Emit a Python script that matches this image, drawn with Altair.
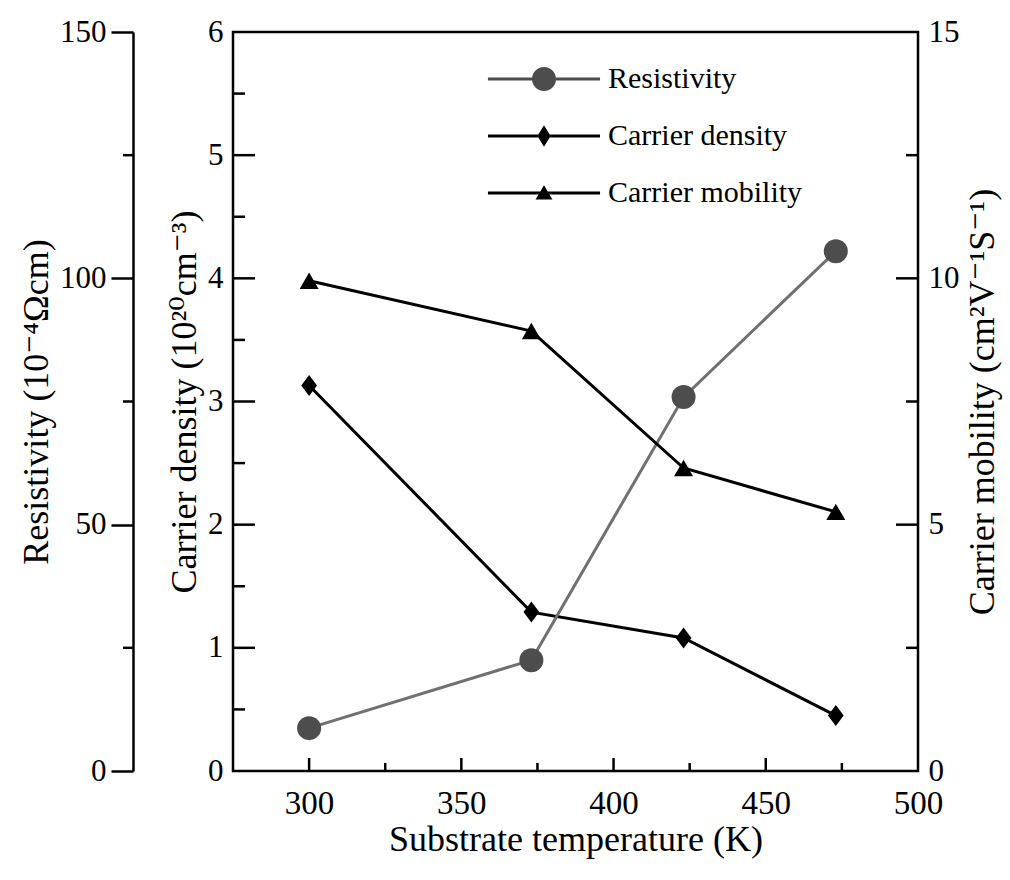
import altair as alt
import pandas as pd

# ---------------- data ----------------
temps = [300, 373, 423, 473]
resistivity = [8.7, 22.5, 75.9, 105.5]          # 10^-4 ohm cm
carrier_density = [3.13, 1.29, 1.08, 0.45]      # 10^20 cm^-3
carrier_mobility = [9.95, 8.93, 6.15, 5.26]     # cm^2 V^-1 s^-1

series_names = ["Resistivity", "Carrier density", "Carrier mobility"]
series_colors = ["#4d4d4d", "#000000", "#000000"]

x_major = [300, 350, 400, 450, 500]
x_minor = [325, 375, 425, 475]
res_major = [0, 50, 100, 150]
res_minor = [25, 75, 125]
den_major = [0, 1, 2, 3, 4, 5, 6]
den_inner_major = [1, 2, 3, 4, 5]
den_minor = [0.5, 1.5, 2.5, 3.5, 4.5, 5.5]
mob_major = [0, 5, 10, 15]
mob_inner_major = [5, 10]
mob_minor = [2.5, 7.5, 12.5]

# ---------------- styling ----------------
W, H = 685, 739
FONT = "Liberation Serif, DejaVu Serif"
LW = 3
TW = 2.5

LINE = "M-4.67,-0.125H4.67V0.125H-4.67Z"
legend_paths = [
    LINE + "M1,0A1,1,0,1,1,-1,0A1,1,0,1,1,1,0Z",
    LINE + "M0,-0.9L0.55,0L0,0.9L-0.55,0Z",
    LINE + "M0,-0.65L0.7,0.55L-0.7,0.55Z",
]
DIAMOND = "M0,-1L0.75,0L0,1L-0.75,0Z"

df = pd.DataFrame({"temp": temps, "res": resistivity,
                   "den": carrier_density, "mob": carrier_mobility})

xscale = alt.Scale(domain=[275, 500], nice=False, zero=False)
res_scale = alt.Scale(domain=[0, 150], nice=False)
den_scale = alt.Scale(domain=[0, 6], nice=False)
mob_scale = alt.Scale(domain=[0, 15], nice=False)

common = dict(labelFont=FONT, titleFont=FONT, labelColor="black", titleColor="black",
              titleFontWeight="normal", labelFontSize=31, titleFontSize=36, grid=False)

x_axis = alt.Axis(title="Substrate temperature (K)", orient="bottom", values=x_major,
                  ticks=False, domain=False, labelPadding=16, format="d",
                  labelFlush=False, titlePadding=2,
                  **{**common, "labelFontSize": 33})


def X(field):
    # same axis definition everywhere so the shared x axis is not disabled
    return alt.X(field, scale=xscale, axis=x_axis)


res_axis = alt.Axis(title="Resistivity (10⁻⁴Ωcm)", orient="left", offset=100,
                    values=res_major, tickSize=22, tickWidth=TW, tickColor="black",
                    domain=True, domainColor="black", domainWidth=TW,
                    labelPadding=5, format="d", **common)
den_axis = alt.Axis(title="Carrier density (10²⁰cm⁻³)", orient="left",
                    values=den_major, ticks=False, domain=False, labelPadding=10,
                    format="d", **common)
mob_axis = alt.Axis(title="Carrier mobility (cm²V⁻¹S⁻¹)", orient="right",
                    values=mob_major, ticks=False, domain=False, labelPadding=10,
                    format="d", titleAngle=270, titleBaseline="top", titlePadding=6,
                    **common)


def rules_y(values, scale, x1, x2):
    return alt.Chart(pd.DataFrame({"v": values})).mark_rule(
        color="black", strokeWidth=TW).encode(
        y=alt.Y("v:Q", scale=scale, axis=None), x=alt.value(x1), x2=alt.value(x2))


res_line = alt.Chart(df).mark_line(color="#707070", strokeWidth=LW).encode(
    x=X("temp:Q"), y=alt.Y("res:Q", scale=res_scale, axis=res_axis))
res_pts = alt.Chart(df).mark_point(filled=True, shape="circle", size=576,
                                    color="#4d4d4d", opacity=1).encode(
    x=X("temp:Q"), y=alt.Y("res:Q", scale=res_scale, axis=None))

den_line = alt.Chart(df).mark_line(color="black", strokeWidth=LW).encode(
    x=X("temp:Q"), y=alt.Y("den:Q", scale=den_scale, axis=den_axis))
den_pts = alt.Chart(df).mark_point(filled=True, shape=DIAMOND, size=441,
                                    color="black", opacity=1).encode(
    x=X("temp:Q"), y=alt.Y("den:Q", scale=den_scale, axis=None))

mob_line = alt.Chart(df).mark_line(color="black", strokeWidth=LW).encode(
    x=X("temp:Q"), y=alt.Y("mob:Q", scale=mob_scale, axis=mob_axis))
mob_pts = alt.Chart(df).mark_point(filled=True, shape="triangle-up", size=361,
                                    color="black", opacity=1).encode(
    x=X("temp:Q"), y=alt.Y("mob:Q", scale=mob_scale, axis=None))

x_maj_rules = alt.Chart(pd.DataFrame({"temp": x_major[:-1]})).mark_rule(
    color="black", strokeWidth=TW).encode(
    x=X("temp:Q"), y=alt.value(H), y2=alt.value(H - 13))
x_min_rules = alt.Chart(pd.DataFrame({"temp": x_minor})).mark_rule(
    color="black", strokeWidth=TW).encode(
    x=X("temp:Q"), y=alt.value(H), y2=alt.value(H - 8))

legend_def = alt.Legend(title=None, orient="none", legendX=296, legendY=32,
                        symbolSize=576, labelOffset=49, rowPadding=27, padding=0,
                        labelFont=FONT, labelFontSize=30, labelColor="black",
                        symbolStrokeWidth=0, labelLimit=400)
leg = alt.Chart(pd.DataFrame({"series": series_names})).transform_filter(
    "false").mark_point(filled=True, opacity=1, size=576).encode(
    color=alt.Color("series:N", scale=alt.Scale(domain=series_names, range=series_colors),
                    legend=legend_def),
    shape=alt.Shape("series:N", scale=alt.Scale(domain=series_names, range=legend_paths),
                    legend=legend_def),
)

layers = [
    den_line, den_pts,
    rules_y(den_inner_major, den_scale, 0, 22),
    rules_y(den_minor, den_scale, 0, 12),
    res_line, res_pts,
    rules_y(res_minor, res_scale, -100, -110),
    mob_line, mob_pts,
    rules_y(mob_inner_major, mob_scale, W, W - 22),
    rules_y(mob_minor, mob_scale, W, W - 12),
    x_maj_rules, x_min_rules, leg,
]

chart = alt.layer(*layers).resolve_scale(
    y="independent"
).properties(
    width=W, height=H,
    padding={"left": 233, "top": 32, "right": 92, "bottom": 109},
    autosize=alt.AutoSizeParams(type="none"),
    background="white",
).configure_view(
    stroke="black", strokeWidth=TW
)

chart.save("out.html", embed_options={"renderer": "svg", "actions": False})
